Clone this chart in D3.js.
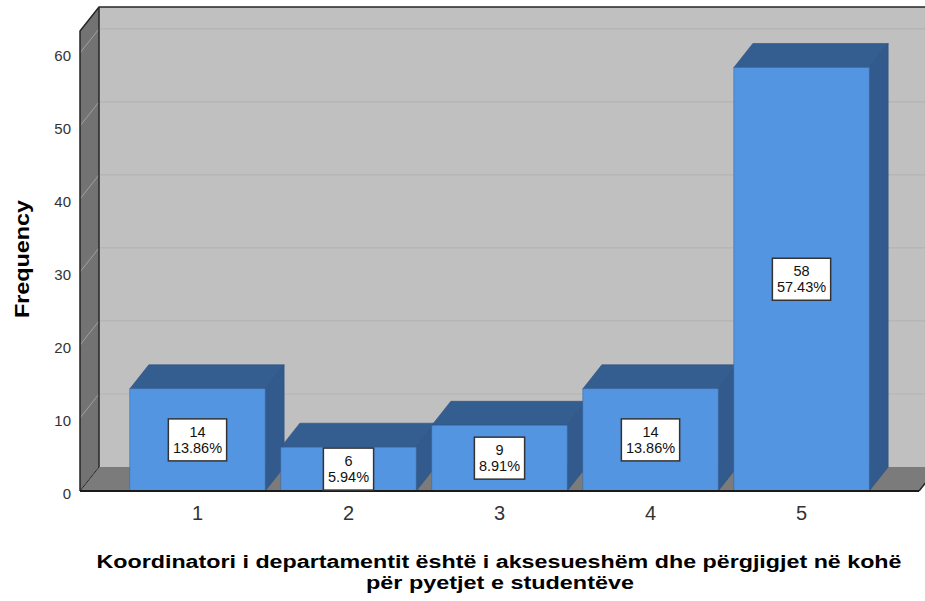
<!DOCTYPE html>
<html>
<head>
<meta charset="utf-8">
<script src="https://cdn.jsdelivr.net/npm/d3@7"></script>
<style>
  body { margin: 0; background: #fff; }
  svg { display: block; font-family: "Liberation Sans", Arial, sans-serif; }
</style>
</head>
<body>
<div id="chart"></div>
<script>
// data
var categories = ["1", "2", "3", "4", "5"];
var counts = [14, 6, 9, 14, 58];
var percents = ["13.86%", "5.94%", "8.91%", "13.86%", "57.43%"];
var yTicks = [0, 10, 20, 30, 40, 50, 60];
var xTitle = ["Koordinatori i departamentit është i aksesueshëm dhe përgjigjet në kohë", "për pyetjet e studentëve"];
var yTitle = "Frequency";

var width = 925, height = 601;
// front plane of the 3D box and depth offset
var plot = {left: 80, right: 919, top: 31, bottom: 491};
var dx = 19, dy = -24;

var svg = d3.select("#chart").append("svg")
    .attr("width", width)
    .attr("height", height);

var x = d3.scaleBand()
    .domain(categories)
    .range([plot.left, plot.right])
    .paddingInner(0.104)
    .paddingOuter(0.33);

var y = d3.scaleLinear()
    .domain([0, 63])
    .range([plot.bottom, plot.top]);

function poly(pts) { return "M" + pts.map(p => p.join(",")).join("L") + "Z"; }

// back wall
svg.append("rect")
    .attr("x", plot.left + dx).attr("y", plot.top + dy)
    .attr("width", plot.right - plot.left).attr("height", plot.bottom - plot.top)
    .attr("fill", "#c0c0c0");

// left wall
svg.append("path")
    .attr("d", poly([[plot.left, plot.bottom], [plot.left + dx, plot.bottom + dy], [plot.left + dx, plot.top + dy], [plot.left, plot.top]]))
    .attr("fill", "#737373");

// floor
svg.append("path")
    .attr("d", poly([[plot.left, plot.bottom], [plot.right, plot.bottom], [plot.right + dx, plot.bottom + dy], [plot.left + dx, plot.bottom + dy]]))
    .attr("fill", "#7b7b7b");

// gridlines on the back wall and the left wall
svg.selectAll(".grid-back")
    .data(yTicks.filter(d => d > 0))
    .enter().append("line")
    .attr("class", "grid-back")
    .attr("x1", plot.left + dx).attr("x2", plot.right + dx)
    .attr("y1", d => y(d) + dy).attr("y2", d => y(d) + dy)
    .attr("stroke", "#b3b3b3").attr("stroke-width", 1.2);

svg.selectAll(".grid-side")
    .data(yTicks)
    .enter().append("line")
    .attr("class", "grid-side")
    .attr("x1", plot.left).attr("x2", plot.left + dx)
    .attr("y1", d => y(d)).attr("y2", d => y(d) + dy)
    .attr("stroke", "#a0a0a0").attr("stroke-width", 1);

// wall outlines
svg.append("path")
    .attr("d", "M" + plot.left + "," + plot.bottom + "L" + plot.left + "," + plot.top +
        "L" + (plot.left + dx) + "," + (plot.top + dy) + "L" + (plot.right + dx) + "," + (plot.top + dy))
    .attr("fill", "none").attr("stroke", "#262626").attr("stroke-width", 1.5);
svg.append("line")
    .attr("x1", plot.left + dx).attr("x2", plot.left + dx)
    .attr("y1", plot.top + dy).attr("y2", plot.bottom + dy)
    .attr("stroke", "#262626").attr("stroke-width", 1.5);
svg.append("line")
    .attr("x1", plot.left).attr("x2", plot.left + dx)
    .attr("y1", plot.bottom).attr("y2", plot.bottom + dy)
    .attr("stroke", "#262626").attr("stroke-width", 1);
svg.append("line")
    .attr("x1", plot.right).attr("x2", plot.right + dx)
    .attr("y1", plot.bottom).attr("y2", plot.bottom + dy)
    .attr("stroke", "#262626").attr("stroke-width", 1.5);

// bars
var bars = svg.selectAll(".bar")
    .data(categories)
    .enter().append("g")
    .attr("class", "bar");

bars.append("path") // top
    .attr("d", (d, i) => {
        var x0 = x(d), x1 = x(d) + x.bandwidth(), yt = y(counts[i]);
        return poly([[x0, yt], [x1, yt], [x1 + dx, yt + dy], [x0 + dx, yt + dy]]);
    })
    .attr("fill", "#345d90").attr("stroke", "#2c5180").attr("stroke-width", 0.6);

bars.append("path") // side
    .attr("d", (d, i) => {
        var x1 = x(d) + x.bandwidth(), yt = y(counts[i]);
        return poly([[x1, y(0)], [x1 + dx, y(0) + dy], [x1 + dx, yt + dy], [x1, yt]]);
    })
    .attr("fill", "#335a8c").attr("stroke", "#2c5180").attr("stroke-width", 0.6);

bars.append("rect") // front
    .attr("x", d => x(d))
    .attr("y", (d, i) => y(counts[i]))
    .attr("width", x.bandwidth())
    .attr("height", (d, i) => y(0) - y(counts[i]))
    .attr("fill", "#5495e2").attr("stroke", "#3a6aa6").attr("stroke-width", 0.6);

// front baseline
svg.append("line")
    .attr("x1", plot.left).attr("x2", plot.right)
    .attr("y1", plot.bottom).attr("y2", plot.bottom)
    .attr("stroke", "#1a1a1a").attr("stroke-width", 2);

// value labels
var labels = svg.selectAll(".val")
    .data(categories)
    .enter().append("g")
    .attr("class", "val")
    .attr("transform", (d, i) => "translate(" + (x(d) + x.bandwidth() / 2) + "," + ((y(counts[i]) + y(0)) / 2) + ")");

var box = labels.append("rect")
    .attr("fill", "#fff").attr("stroke", "#333").attr("stroke-width", 1.5);

labels.append("text")
    .attr("class", "cnt")
    .attr("text-anchor", "middle")
    .attr("y", -3)
    .style("font-size", "14.5px")
    .attr("fill", "#111")
    .text((d, i) => counts[i]);

labels.append("text")
    .attr("class", "pct")
    .attr("text-anchor", "middle")
    .attr("y", 13)
    .style("font-size", "14.5px")
    .attr("fill", "#111")
    .text((d, i) => percents[i]);

box.each(function () {
    var t = d3.select(this.parentNode).select(".pct").node();
    var w = t.getBBox().width + 9;
    d3.select(this).attr("x", -w / 2).attr("y", -21).attr("width", w).attr("height", 42);
});

// y tick labels
svg.selectAll(".ytick")
    .data(yTicks)
    .enter().append("text")
    .attr("class", "ytick")
    .attr("x", 71)
    .attr("y", d => y(d) + 8)
    .attr("text-anchor", "end")
    .style("font-size", "15px")
    .attr("fill", "#333")
    .text(d => d);

// x tick labels
svg.selectAll(".xtick")
    .data(categories)
    .enter().append("text")
    .attr("class", "xtick")
    .attr("x", d => x(d) + x.bandwidth() / 2)
    .attr("y", 520)
    .attr("text-anchor", "middle")
    .style("font-size", "20px")
    .attr("fill", "#333")
    .text(d => d);

// axis titles
svg.append("text")
    .attr("transform", "translate(29,259) rotate(-90)")
    .attr("text-anchor", "middle")
    .style("font-size", "20px").style("font-weight", "bold")
    .attr("textLength", 118).attr("lengthAdjust", "spacingAndGlyphs")
    .text(yTitle);

svg.append("text")
    .attr("x", 499).attr("y", 568)
    .attr("text-anchor", "middle")
    .style("font-size", "18px").style("font-weight", "bold")
    .attr("textLength", 805).attr("lengthAdjust", "spacingAndGlyphs")
    .text(xTitle[0]);

svg.append("text")
    .attr("x", 500).attr("y", 589)
    .attr("text-anchor", "middle")
    .style("font-size", "18px").style("font-weight", "bold")
    .attr("textLength", 268).attr("lengthAdjust", "spacingAndGlyphs")
    .text(xTitle[1]);
</script>
</body>
</html>
